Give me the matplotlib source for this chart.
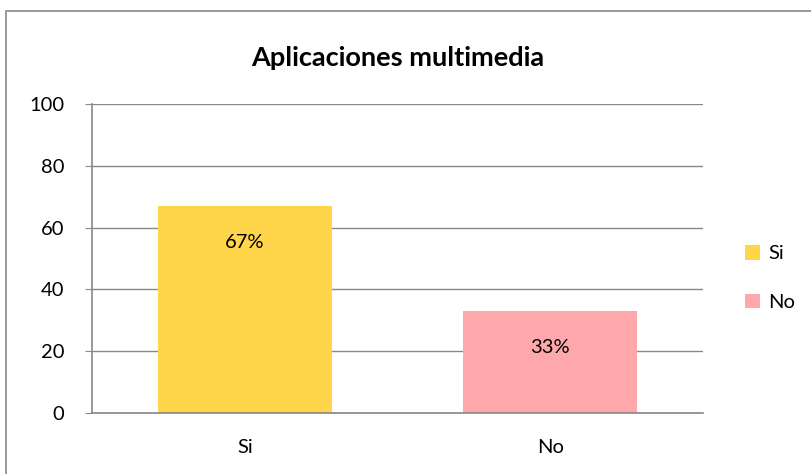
import matplotlib
matplotlib.use("Agg")
import matplotlib.pyplot as plt
from matplotlib.patches import Rectangle, Patch

categories = ["Si", "No"]
values = [67, 33]
labels = ["67%", "33%"]
colors = ["#FFD54A", "#FFA8AC"]
yticks = [0, 20, 40, 60, 80, 100]

W, H = 812, 474
plt.rcParams['font.family'] = ['Lato', 'DejaVu Sans']
fig = plt.figure(figsize=(W / 100, H / 100), dpi=100)

# outer chart border
fig.patches.append(Rectangle((6 / W, -0.1), 1.2, (H - 11) / H + 0.1, transform=fig.transFigure,
                             fill=False, edgecolor="#888888", linewidth=1.2))

ax = fig.add_axes([92 / W, (H - 413) / H, (703 - 92) / W, (413 - 104) / H])
x = list(range(len(categories)))
bars = ax.bar(x, values, width=0.57, color=colors, zorder=3)
ax.set_xlim(-0.5, len(categories) - 0.5)
ax.set_ylim(0, 100)
ax.set_yticks(yticks)
ax.set_yticklabels([str(t) for t in yticks], fontsize=14.5)
ax.set_xticks(x)
ax.set_xticklabels(categories, fontsize=14.5)
ax.tick_params(axis='x', length=0, pad=19)
ax.tick_params(axis='y', length=5, color="#888888", pad=15)
ax.grid(axis='y', color="#888888", linewidth=1, zorder=0)
for s in ["top", "right"]:
    ax.spines[s].set_visible(False)
for s in ["left", "bottom"]:
    ax.spines[s].set_color("#888888")
    ax.spines[s].set_linewidth(1.2)
ax.spines["bottom"].set_zorder(4)

for xi, v, lab in zip(x, values, labels):
    ax.annotate(lab, xy=(xi, v), xytext=(0, -26), textcoords="offset points",
                ha="center", va="center", fontsize=14.5, zorder=5)

ax.set_title("Aplicaciones multimedia", fontsize=19.5, fontweight="bold", pad=27)

handles = [Patch(facecolor=c, edgecolor="none") for c in colors]
fig.legend(handles, categories, loc="center left", bbox_to_anchor=(727 / W, (H - 278) / H),
           frameon=False, fontsize=14.5, handlelength=0.75, handleheight=0.75,
           handletextpad=0.4, labelspacing=1.55)

fig.savefig("out.png", dpi=100)
